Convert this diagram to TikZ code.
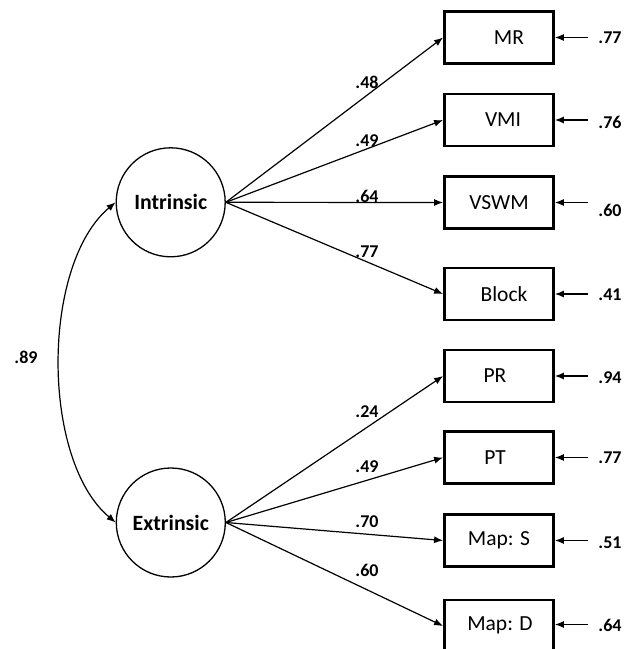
\documentclass[tikz,border=0pt]{standalone}
\usepackage{fontspec}
\setmainfont{Carlito}
\usetikzlibrary{arrows.meta}
\begin{document}
\begin{tikzpicture}[x=1pt,y=-1pt,
  latent/.style={circle,draw,line width=1.3pt,minimum size=109pt,inner sep=0pt,
    font=\fontsize{21.8}{24}\selectfont\bfseries},
  obs/.style={draw,line width=2.8pt,minimum width=109pt,minimum height=52pt,inner sep=0pt},
  boxtext/.style={font=\fontsize{21.5}{24}\selectfont,inner sep=0pt},
  coef/.style={font=\fontsize{18}{20}\selectfont\bfseries,inner sep=0pt},
  tip/.tip={Latex[length=9pt,width=7pt]},
  load/.style={line width=1.2pt,-tip},
]
\useasboundingbox (0,0) rectangle (635,649);
\clip (0,0) rectangle (635,649);
\fill[white] (0,0) rectangle (635,649);

% latent variables
\node[latent] (I) at (170.7,202.3) {Intrinsic};
\node[latent] (E) at (170.8,522.5) {Extrinsic};

% observed variables
\node[obs,label={[boxtext,xshift=10pt]center:MR}]   (MR)  at (499,37.5) {};
\node[obs,label={[boxtext,xshift=4pt]center:VMI}]   (VMI) at (499,120) {};
\node[obs,label={[boxtext]center:VSWM}]             (VS)  at (499,202.5) {};
\node[obs,label={[boxtext,xshift=5pt]center:Block}] (BL)  at (499,294) {};
\node[obs,label={[boxtext,xshift=-4pt]center:PR}]   (PR)  at (499,376) {};
\node[obs,label={[boxtext,xshift=-4pt]center:PT}]   (PT)  at (499,457.5) {};
\node[obs,label={[boxtext]center:Map: S}]           (MS)  at (499,540.5) {};
\node[obs,label={[boxtext,xshift=1pt,yshift=1pt]center:Map: D}] (MD) at (499,626) {};

% loadings
\draw[load] (I.east) -- (MR.west);
\draw[load] (I.east) -- (VMI.west);
\draw[load] (I.east) -- (VS.west);
\draw[load] (I.east) -- (BL.west);
\draw[load] (E.east) -- (PR.west);
\draw[load] (E.east) -- (PT.west);
\draw[load] (E.east) -- (MS.west);
\draw[load] (E.east) -- (MD.west);

\node[coef] (c1) at (367,82.7) {.48};
\node[coef] (c2) at (367,141) {.49};
\node[coef] (c3) at (367,196) {.64};
\node[coef] (c4) at (367,251.7) {.77};
\node[coef] (c5) at (367,411.7) {.24};
\node[coef] (c6) at (367,466.7) {.49};
\node[coef] (c7) at (367,521.7) {.70};
\node[coef] (c8) at (367,570) {.60};

% error terms
\coordinate (e1) at (588,37.5);
\coordinate (e2) at (588,120);
\coordinate (e3) at (588,202.5);
\coordinate (e4) at (588,294);
\coordinate (e5) at (588,376);
\coordinate (e6) at (588,457.5);
\coordinate (e7) at (588,540.5);
\coordinate (e8) at (588,624.5);
\draw[load] (e1) -- (MR.east);
\draw[load] (e2) -- (VMI.east);
\draw[load] (e3) -- (VS.east);
\draw[load] (e4) -- (BL.east);
\draw[load] (e5) -- (PR.east);
\draw[load] (e6) -- (PT.east);
\draw[load] (e7) -- (MS.east);
\draw[load] (e8) -- (MD.east |- e8);

\node[coef] (r1) at (610,37.5) {.77};
\node[coef] (r2) at (610,122) {.76};
\node[coef] (r3) at (610,210) {.60};
\node[coef] (r4) at (610,295) {.41};
\node[coef] (r5) at (610,378) {.94};
\node[coef] (r6) at (610,457.7) {.77};
\node[coef] (r7) at (610,542.7) {.51};
\node[coef] (r8) at (610,625) {.64};

% correlation
\draw[line width=1.2pt,tip-tip] (I.west) .. controls (41,265) and (41,460) .. (E.west);
\node[coef] (r) at (26,357) {.89};
\end{tikzpicture}
\end{document}
